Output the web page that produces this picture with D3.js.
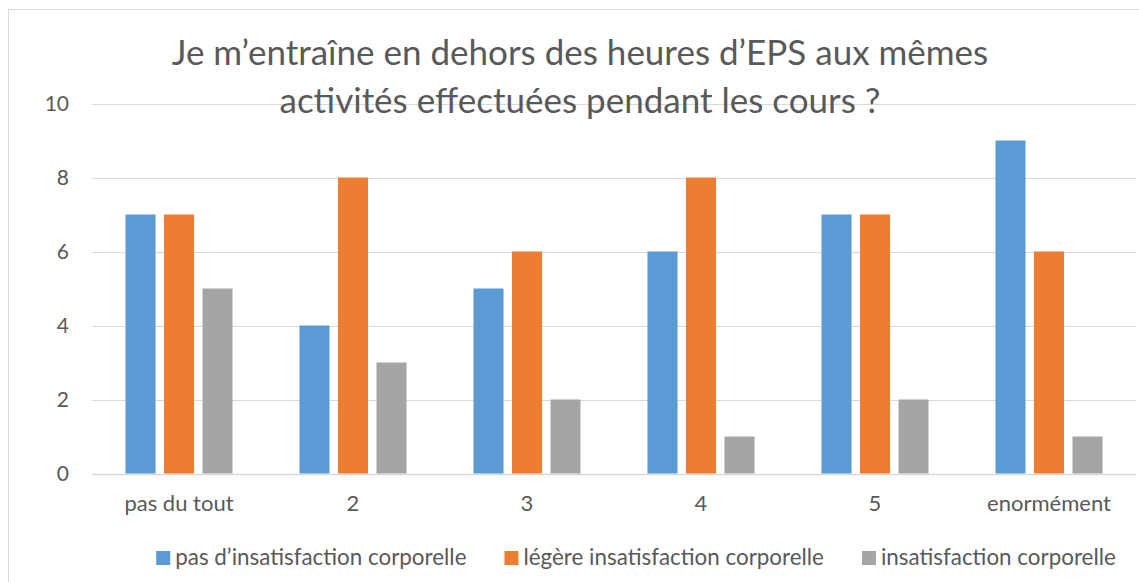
<!DOCTYPE html>
<html>
<head>
<meta charset="utf-8">
<script src="https://cdn.jsdelivr.net/npm/d3@7"></script>
<style>
  body { margin: 0; background: #fff; }
  text { font-family: Lato, "Open Sans", sans-serif; fill: #595959; }
</style>
</head>
<body>
<svg id="chart" width="1139" height="582"></svg>
<script>
const categories = ["pas du tout", "2", "3", "4", "5", "enormément"];
const seriesNames = ["pas d\u2019insatisfaction corporelle", "légère insatisfaction corporelle", "insatisfaction corporelle"];
const noDissatisfaction = [7, 4, 5, 6, 7, 9];
const slightDissatisfaction = [7, 8, 6, 8, 7, 6];
const dissatisfaction = [5, 3, 2, 1, 2, 1];
const yTicks = [0, 2, 4, 6, 8, 10];
const colors = ["#5b9bd5", "#ed7d31", "#a5a5a5"];

const seriesValues = [noDissatisfaction, slightDissatisfaction, dissatisfaction];
const rows = categories.map((c, i) => ({
    name: c,
    values: seriesNames.map((s, j) => ({ series: s, value: seriesValues[j][i] }))
}));

const svg = d3.select("#chart");

// chart frame
svg.append("rect")
    .attr("x", 8.5).attr("y", 9.5)
    .attr("width", 1140).attr("height", 580)
    .attr("fill", "none")
    .attr("stroke", "#d9d9d9");

const x0 = d3.scaleBand()
    .domain(categories)
    .range([92, 1136]);

const x1 = d3.scaleBand()
    .domain(seriesNames)
    .range([0, x0.bandwidth()])
    .paddingInner(0.22)
    .paddingOuter(0.87);

const y = d3.scaleLinear()
    .domain([0, 10])
    .range([473.5, 103.5]);

// gridlines
svg.append("g")
    .selectAll("line")
    .data(yTicks)
    .enter()
    .append("line")
    .attr("x1", 92).attr("x2", 1136)
    .attr("y1", d => Math.round(y(d)) + 0.5)
    .attr("y2", d => Math.round(y(d)) + 0.5)
    .attr("stroke", "#d9d9d9")
    .attr("stroke-width", d => d === 0 ? 1.5 : 1.2);

// y tick labels
svg.append("g")
    .selectAll("text")
    .data(yTicks)
    .enter()
    .append("text")
    .attr("x", 69)
    .attr("y", d => y(d))
    .attr("dy", "0.35em")
    .attr("text-anchor", "end")
    .attr("font-size", 21)
    .text(d => d);

// bars
const group = svg.append("g")
    .selectAll("g")
    .data(rows)
    .enter()
    .append("g")
    .attr("transform", d => `translate(${x0(d.name)},0)`);

group.selectAll("rect")
    .data(d => d.values)
    .enter()
    .append("rect")
    .attr("x", d => x1(d.series))
    .attr("y", d => y(d.value))
    .attr("width", x1.bandwidth())
    .attr("height", d => y(0) - y(d.value))
    .attr("fill", (d, i) => colors[i]);

// category labels
svg.append("g")
    .selectAll("text")
    .data(categories)
    .enter()
    .append("text")
    .attr("x", d => x0(d) + x0.bandwidth() / 2)
    .attr("y", 511)
    .attr("text-anchor", "middle")
    .attr("font-size", 22)
    .text(d => d);

// title
const title = svg.append("text")
    .attr("text-anchor", "middle")
    .attr("font-size", 35);
title.append("tspan").attr("x", 580).attr("y", 65)
    .text("Je m\u2019entraîne en dehors des heures d\u2019EPS aux mêmes");
title.append("tspan").attr("x", 580).attr("y", 113)
    .text("activités effectuées pendant les cours ?");

// legend
const legend = svg.append("g");
const items = legend.selectAll("g")
    .data(seriesNames)
    .enter()
    .append("g");
items.append("rect")
    .attr("width", 14).attr("height", 14)
    .attr("y", 551)
    .attr("fill", (d, i) => colors[i]);
items.append("text")
    .attr("x", 19)
    .attr("y", 565)
    .attr("font-size", 22.4)
    .text(d => d);

const widths = [];
items.each(function () {
    widths.push(19 + d3.select(this).select("text").node().getComputedTextLength());
});
const gap = 38;
const total = d3.sum(widths) + gap * (widths.length - 1);
let cursor = 636 - total / 2;
items.attr("transform", (d, i) => {
    const t = `translate(${cursor},0)`;
    cursor += widths[i] + gap;
    return t;
});
</script>
</body>
</html>
